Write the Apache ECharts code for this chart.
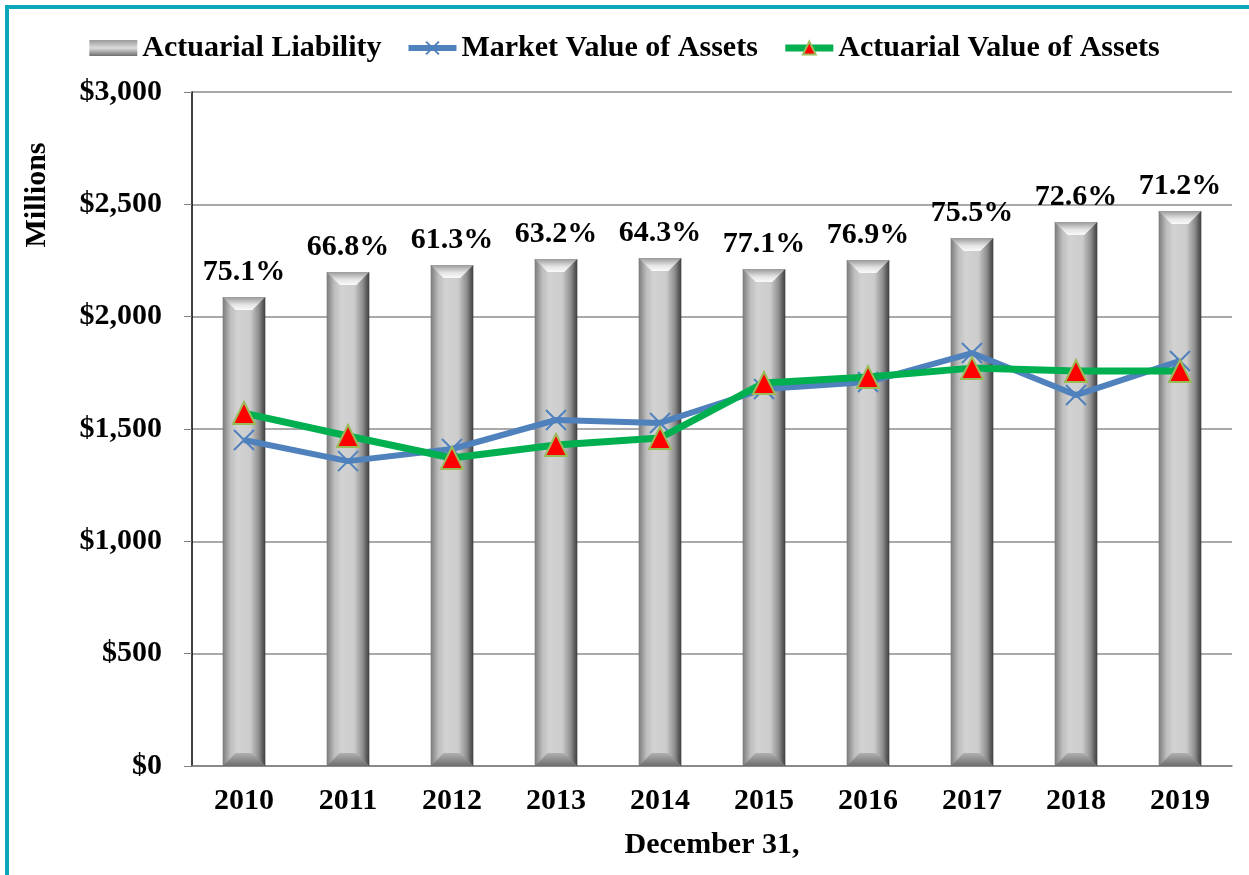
<!DOCTYPE html>
<html>
<head>
<meta charset="utf-8">
<script src="https://cdn.jsdelivr.net/npm/echarts@6/dist/echarts.min.js"></script>
<style>
  html, body { margin: 0; padding: 0; background: #fff; }
  #chart { width: 1249px; height: 875px; }
</style>
</head>
<body>
<div id="chart"></div>
<script>
// data (millions)
const years = ['2010', '2011', '2012', '2013', '2014', '2015', '2016', '2017', '2018', '2019']
const liability = [2087, 2199, 2230, 2257, 2261, 2212, 2252, 2350, 2421, 2470]
const marketValue = [1451, 1357, 1411, 1540, 1527, 1678, 1709, 1838, 1651, 1803]
const actuarialValue = [1571, 1469, 1371, 1429, 1460, 1705, 1731, 1771, 1758, 1758]
const fundedRatio = ['75.1%', '66.8%', '61.3%', '63.2%', '64.3%', '77.1%', '76.9%', '75.5%', '72.6%', '71.2%']
const yTicks = [0, 500, 1000, 1500, 2000, 2500, 3000]

const FONT = '"Liberation Serif", "Times New Roman", serif'
const FS = 30

const myChart = echarts.init(document.getElementById('chart'))

// body of the bar: dark edges, light middle
const bodyFill = new echarts.graphic.LinearGradient(0, 0, 1, 0, [
  { offset: 0, color: '#7a7a7a' },
  { offset: 0.18, color: '#bdbdbd' },
  { offset: 0.35, color: '#d2d2d2' },
  { offset: 0.65, color: '#cccccc' },
  { offset: 0.85, color: '#8c8c8c' },
  { offset: 1, color: '#3c3c3c' }
])

// bevelled bar drawn with the axis scales
const renderBar = (params, api) => {
  const i = params.dataIndex
  const top = api.coord([api.value(0), api.value(1)])
  const base = api.coord([api.value(0), 0])
  const w = api.size([1, 0])[0] * 0.41
  const x0 = top[0] - w / 2
  const x1 = top[0] + w / 2
  const h = base[1] - top[1]
  const b = 13
  return {
    type: 'group',
    children: [
      {
        type: 'rect',
        shape: { x: x0, y: top[1], width: w, height: h },
        style: { fill: bodyFill }
      },
      {
        type: 'polygon',
        shape: { points: [[x0, top[1]], [x1, top[1]], [x1 - b, top[1] + b], [x0 + b, top[1] + b]] },
        style: {
          fill: new echarts.graphic.LinearGradient(0, 0, 0, 1, [
            { offset: 0, color: '#9a9a9a' },
            { offset: 0.6, color: '#e6e6e6' },
            { offset: 1, color: '#fafafa' }
          ])
        }
      },
      {
        type: 'polygon',
        shape: { points: [[x0, base[1]], [x1, base[1]], [x1 - b, base[1] - b], [x0 + b, base[1] - b]] },
        style: {
          fill: new echarts.graphic.LinearGradient(0, 0, 0, 1, [
            { offset: 0, color: '#b0b0b0' },
            { offset: 1, color: '#6e6e6e' }
          ])
        }
      },
      {
        type: 'text',
        style: {
          x: top[0],
          y: top[1] - 10,
          text: fundedRatio[i],
          align: 'center',
          verticalAlign: 'bottom',
          fontFamily: FONT,
          fontWeight: 'bold',
          fontSize: FS,
          fill: '#000'
        }
      }
    ]
  }
}

const renderChart = () => {
  const options = {
    animation: false,
    backgroundColor: '#fff',
    graphic: [
      {
        type: 'rect',
        shape: { x: 7, y: 7, width: 1300, height: 900 },
        style: { fill: 'none', stroke: '#0aa8b8', lineWidth: 4 },
        silent: true
      },
      {
        type: 'text',
        x: 37,
        y: 195,
        rotation: Math.PI / 2,
        style: {
          text: 'Millions',
          align: 'center',
          verticalAlign: 'middle',
          fontFamily: FONT,
          fontWeight: 'bold',
          fontSize: FS,
          fill: '#000'
        }
      }
    ],
    legend: {
      top: 28,
      left: 'center',
      itemGap: 24,
      itemWidth: 48,
      itemHeight: 16,
      textStyle: { fontFamily: FONT, fontWeight: 'bold', fontSize: FS, color: '#000' },
      data: [
        {
          name: 'Actuarial Liability',
          icon: 'rect',
          itemStyle: {
            color: new echarts.graphic.LinearGradient(0, 0, 0, 1, [
              { offset: 0, color: '#9a9a9a' },
              { offset: 0.5, color: '#dcdcdc' },
              { offset: 1, color: '#6e6e6e' }
            ])
          }
        },
        { name: 'Market Value of Assets', lineStyle: { width: 6 } },
        { name: 'Actuarial Value of Assets', lineStyle: { width: 7 } }
      ]
    },
    grid: { left: 192, right: 17, top: 92, bottom: 109, containLabel: false },
    xAxis: {
      type: 'category',
      data: years,
      name: 'December 31,',
      nameLocation: 'middle',
      nameGap: 64,
      nameTextStyle: { fontFamily: FONT, fontWeight: 'bold', fontSize: FS, color: '#000' },
      axisLine: { lineStyle: { color: '#808080', width: 1.5 } },
      axisTick: { show: false },
      axisLabel: { margin: 20, fontFamily: FONT, fontWeight: 'bold', fontSize: FS, color: '#000' }
    },
    yAxis: {
      type: 'value',
      min: yTicks[0],
      max: yTicks[yTicks.length - 1],
      interval: 500,
      axisLine: { show: true, lineStyle: { color: '#000', width: 1.5 } },
      axisTick: { show: true, length: 8, lineStyle: { color: '#808080' } },
      splitLine: { lineStyle: { color: '#8c8c8c', width: 1.5 } },
      axisLabel: {
        margin: 30,
        fontFamily: FONT,
        fontWeight: 'bold',
        fontSize: FS,
        color: '#000',
        formatter: (v) => '$' + v.toLocaleString('en-US')
      }
    },
    series: [
      {
        name: 'Actuarial Liability',
        type: 'custom',
        renderItem: renderBar,
        encode: { x: 0, y: 1 },
        data: years.map((y, i) => [i, liability[i]]),
        z: 2
      },
      {
        name: 'Market Value of Assets',
        type: 'line',
        data: marketValue,
        symbol: 'path://M0,0L10,10M10,0L0,10',
        symbolSize: 20,
        lineStyle: { color: '#4f81bd', width: 6 },
        itemStyle: { color: '#4f81bd', borderColor: '#4f81bd', borderWidth: 2 },
        z: 3
      },
      {
        name: 'Actuarial Value of Assets',
        type: 'line',
        data: actuarialValue,
        symbol: 'triangle',
        symbolSize: 22,
        lineStyle: { color: '#00b050', width: 7 },
        itemStyle: { color: '#ff0000', borderColor: '#9bbb59', borderWidth: 2 },
        z: 4
      }
    ]
  }
  myChart.setOption(options)
}

renderChart()
</script>
</body>
</html>
